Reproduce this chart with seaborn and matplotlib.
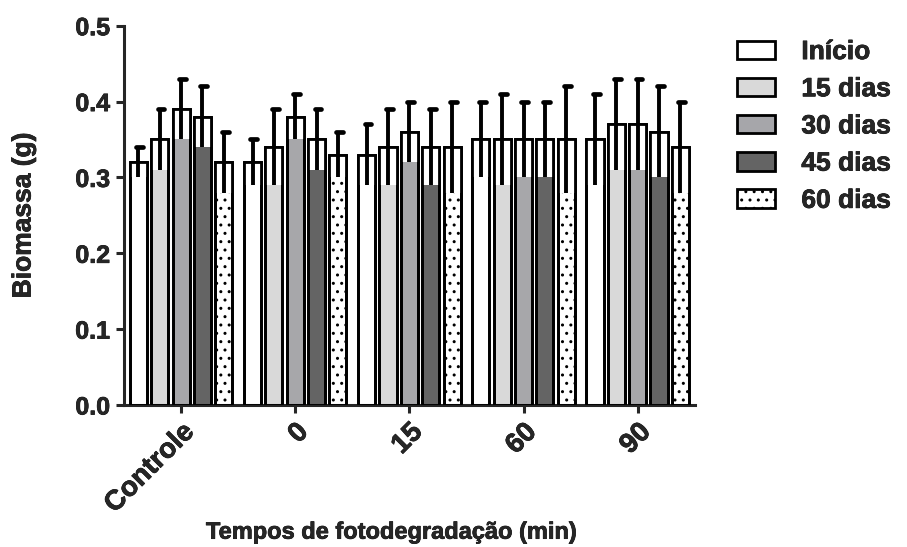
import matplotlib
matplotlib.use("Agg")
import matplotlib.pyplot as plt
import matplotlib.patheffects as pe
from matplotlib.patches import Patch, Rectangle
import seaborn as sns
import pandas as pd
import numpy as np

groups = ["Controle", "0", "15", "60", "90"]
series = ["Início", "15 dias", "30 dias", "45 dias", "60 dias"]
means = {
    "Início":  [0.32, 0.32, 0.33, 0.35, 0.35],
    "15 dias": [0.35, 0.34, 0.34, 0.35, 0.37],
    "30 dias": [0.39, 0.38, 0.36, 0.35, 0.37],
    "45 dias": [0.38, 0.35, 0.34, 0.35, 0.36],
    "60 dias": [0.32, 0.33, 0.34, 0.35, 0.34],
}
errors = {
    "Início":  [0.02, 0.03, 0.04, 0.05, 0.06],
    "15 dias": [0.04, 0.05, 0.05, 0.06, 0.06],
    "30 dias": [0.04, 0.03, 0.04, 0.05, 0.06],
    "45 dias": [0.04, 0.04, 0.05, 0.05, 0.06],
    "60 dias": [0.04, 0.03, 0.06, 0.07, 0.06],
}
colors = ["#ffffff", "#d9d9d9", "#a6a6aa", "#646464", "#ffffff"]
hatches = ["", "", "", "", ".."]

sns.set_style("ticks")
plt.rcParams["font.family"] = ["Liberation Sans", "DejaVu Sans"]
plt.rcParams["font.weight"] = "bold"
plt.rcParams["hatch.linewidth"] = 1.0

rows = []
for s in series:
    for g, m in zip(groups, means[s]):
        rows.append({"grupo": g, "serie": s, "valor": m})
df = pd.DataFrame(rows)

fig = plt.figure(figsize=(9.07, 5.47), dpi=100)
ax = fig.add_axes([0.1367, 0.2596, 0.766 - 0.1367, 0.953 - 0.2596])

sns.barplot(data=df, x="grupo", y="valor", hue="serie", order=groups,
            hue_order=series, palette=colors, width=0.935, gap=0.2,
            edgecolor="black", linewidth=2, errorbar=None, ax=ax,
            legend=False)

for ci, (cont, s) in enumerate(zip(ax.containers, series)):
    for bi, patch in enumerate(cont.patches):
        patch.set_hatch(hatches[ci])
        patch.set_zorder(2)
        x0 = patch.get_x()
        w = patch.get_width()
        xc = x0 + w / 2
        m = means[s][bi]
        e = errors[s][bi]
        # white interior behind error bar
        ax.add_patch(Rectangle((x0, m - e), w, e, facecolor="white",
                               edgecolor="none", zorder=3))
        # redraw bar outline
        ax.add_patch(Rectangle((x0, 0), w, m, fill=False,
                               edgecolor="black", linewidth=2, zorder=4))
        ax.vlines(xc, m - e, m + e, color="black", linewidth=2.8, zorder=5)
        ax.plot([xc - w * 0.12, xc + w * 0.28], [m + e, m + e], color="black",
                linewidth=3.4, solid_capstyle="round", zorder=5)

stroke = [pe.withStroke(linewidth=0.5, foreground="black")]

ax.set_xlim(-0.5, 4.5)
ax.set_ylim(0, 0.5)
ax.set_yticks([0.0, 0.1, 0.2, 0.3, 0.4, 0.5])
ax.set_yticklabels(["0.0", "0.1", "0.2", "0.3", "0.4", "0.5"])
ax.tick_params(axis="both", width=2.2, length=6, labelsize=18, pad=4)
plt.setp(ax.get_xticklabels(), rotation=45, ha="right",
         rotation_mode="anchor", fontweight="bold", fontsize=20,
         path_effects=stroke)
plt.setp(ax.get_yticklabels(), fontweight="bold", path_effects=stroke)
for sp in ["left", "bottom"]:
    ax.spines[sp].set_linewidth(2.2)
sns.despine(ax=ax)

ax.set_ylabel("Biomassa (g)", fontsize=19, fontweight="bold",
              path_effects=stroke)
ax.yaxis.set_label_coords(-0.155, 0.5)
ax.set_xlabel("Tempos de fotodegradação (min)", fontsize=17,
              fontweight="bold", path_effects=stroke)
ax.xaxis.set_label_coords(0.469, -0.305)

handles = [Patch(facecolor=c, edgecolor="black", linewidth=2, hatch=h)
           for c, h in zip(colors, hatches)]
leg = ax.legend(handles, series, loc="upper left", bbox_to_anchor=(1.055, 0.99),
                frameon=False, handlelength=1.45, handleheight=0.7,
                labelspacing=0.5, handletextpad=1.0, borderaxespad=0.0,
                prop={"weight": "bold", "size": 19})
for t in leg.get_texts():
    t.set_path_effects(stroke)

fig.savefig("out.png", dpi=100)
